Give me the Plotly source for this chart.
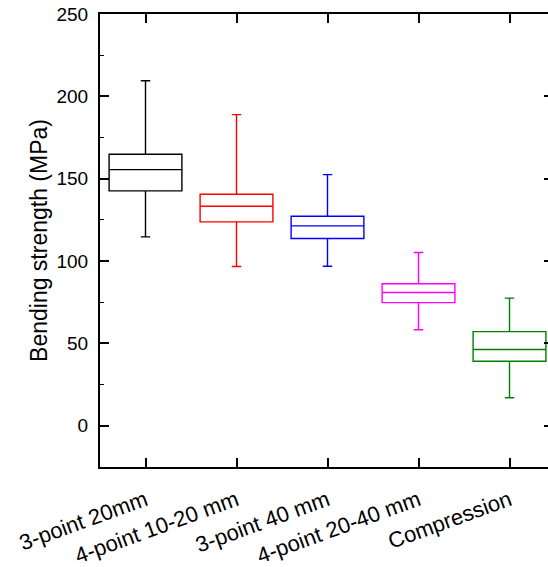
import plotly.graph_objects as go

categories = ["3-point 20mm", "4-point 10-20 mm", "3-point 40 mm", "4-point 20-40 mm", "Compression"]
upper_whisker = [209.5, 188.9, 152.5, 105.2, 77.5]
q3_values = [164.9, 140.6, 127.2, 86.2, 57.2]
median_values = [155.5, 133.3, 121.4, 80.9, 46.3]
q1_values = [142.6, 123.8, 113.7, 74.8, 39.2]
lower_whisker = [114.7, 96.7, 96.9, 58.3, 17.0]
colors = ["#000000", "#FF0000", "#0000FF", "#FF00FF", "#008000"]
y_ticks = [0, 50, 100, 150, 200, 250]

fig = go.Figure()
for i, cat in enumerate(categories):
    fig.add_trace(go.Box(
        x=[i], q1=[q1_values[i]], median=[median_values[i]], q3=[q3_values[i]],
        lowerfence=[lower_whisker[i]], upperfence=[upper_whisker[i]],
        width=0.8, whiskerwidth=0.13,
        line=dict(color=colors[i], width=1.4),
        fillcolor="rgba(0,0,0,0)", boxpoints=False, showlegend=False,
        name=cat,
    ))

# invisible trace carrying the right-hand tick axis (the right frame edge is cut off)
fig.add_trace(go.Scatter(x=[0], y=[0], yaxis="y2", mode="markers",
                         marker=dict(opacity=0), showlegend=False, hoverinfo="skip"))

font = "Liberation Sans, Arial, sans-serif"
fig.update_layout(
    width=548, height=567,
    margin=dict(l=100, r=0, t=14, b=100, autoexpand=False),
    paper_bgcolor="white", plot_bgcolor="white",
    font=dict(family=font, color="black", size=19),
    xaxis=dict(
        range=[-0.5, 4.423], tickmode="array", tickvals=list(range(len(categories))),
        ticktext=categories, tickangle=-20, ticks="inside", ticklen=9, tickwidth=1.5,
        tickcolor="black", showline=True, linecolor="black", linewidth=2,
        mirror="ticks", showgrid=False, zeroline=False,
        ticklabelstandoff=10,
        tickfont=dict(size=22, family=font),
    ),
    yaxis=dict(
        range=[-25, 250], tickvals=y_ticks, ticks="inside", ticklen=9, tickwidth=1.5,
        tickcolor="black", showline=True, linecolor="black", linewidth=2,
        mirror=False, showgrid=False, zeroline=False,
        minor=dict(dtick=25, ticks="inside", ticklen=4, tickwidth=1.2, tickcolor="black", showgrid=False),
        ticklabelstandoff=6, ticklabeloverflow="allow",
        tickfont=dict(size=19, family=font),
        title=dict(text="Bending strength (MPa)", font=dict(size=23, family=font), standoff=2),
    ),
    yaxis2=dict(
        range=[-25, 250], tickvals=y_ticks, overlaying="y", side="right",
        ticks="inside", ticklen=4, tickwidth=1.5, tickcolor="black",
        showline=False, showticklabels=False, showgrid=False, zeroline=False,
    ),
)

fig.write_html("out.html", config={"displayModeBar": False},
               post_script="document.body.style.margin='0';")
